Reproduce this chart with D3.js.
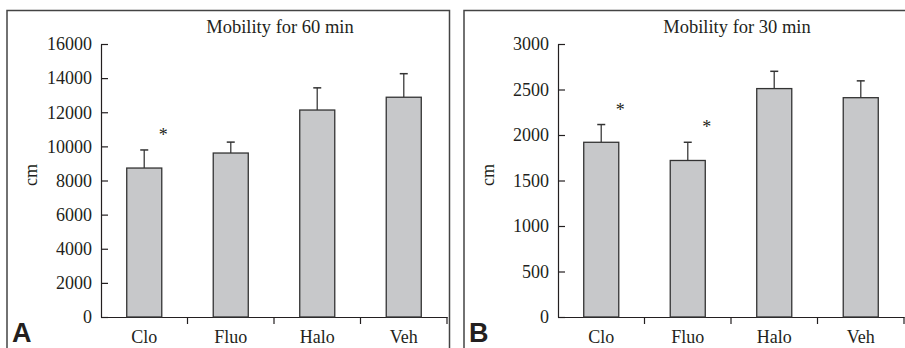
<!DOCTYPE html>
<html><head><meta charset="utf-8">
<script src="https://cdn.jsdelivr.net/npm/d3@7"></script>
<style>
body{margin:0;background:#fff;}
svg{display:block;}
text{font-family:"Liberation Serif","Times New Roman",serif;fill:#231f20;}
</style></head>
<body><svg id="chart" width="905" height="348"></svg>
<script>
const categories = ["Clo","Fluo","Halo","Veh"];
const meansA = [8730, 9610, 12130, 12880];
const errA = [1060, 640, 1300, 1380];
const sigA = [true, false, false, false];
const ticksA = [0,2000,4000,6000,8000,10000,12000,14000,16000];
const meansB = [1920, 1720, 2510, 2410];
const errB = [195, 200, 190, 185];
const sigB = [true, true, false, false];
const ticksB = [0,500,1000,1500,2000,2500,3000];
const titles = ["Mobility for 60 min","Mobility for 30 min"];
const panelLetters = ["A","B"];
const yLabel = "cm";

const svg = d3.select("#chart");
const ink = "#231f20";

function panel(ox, title, letter, means, errs, sig, ticks) {
  const g = svg.append("g").attr("transform", `translate(${ox},0)`);
  // frame (no bottom)
  g.append("path").attr("d", "M7,349V10.5H449.5V349")
    .attr("fill","none").attr("stroke","#444").attr("stroke-width",1.5);
  const x0 = 101, x1 = 447, yTop = 44, yBot = 317;
  const x = d3.scaleBand().domain(categories).range([x0, x1]).padding(0);
  const y = d3.scaleLinear().domain([0, d3.max(ticks)]).range([yBot, yTop]);
  const barW = x.bandwidth() * 0.405;

  // y axis
  const ya = g.append("g").attr("transform", `translate(${x0},0)`)
    .call(d3.axisLeft(y).tickValues(ticks).tickFormat(d3.format("d"))
      .tickSizeInner(-7).tickSizeOuter(0).tickPadding(9));
  ya.select(".domain").attr("stroke", ink).attr("stroke-width",1.2);
  ya.selectAll(".tick line").attr("stroke", ink).attr("stroke-width",1.2);
  ya.selectAll("text").style("font-size","18px").attr("fill", ink)
    .style("font-family","'Liberation Serif',serif");

  // x axis (labels)
  const xa = g.append("g").attr("transform", `translate(0,${yBot})`)
    .call(d3.axisBottom(x).tickSize(0).tickPadding(13));
  xa.select(".domain").attr("stroke", ink).attr("stroke-width",1.2);
  xa.selectAll("text").style("font-size","18px").attr("fill", ink)
    .style("font-family","'Liberation Serif',serif");
  // tick marks at band boundaries
  g.append("g").selectAll("line").data(categories).join("line")
    .attr("x1", d => x(d) + x.bandwidth()).attr("x2", d => x(d) + x.bandwidth())
    .attr("y1", yBot).attr("y2", yBot + 7)
    .attr("stroke", ink).attr("stroke-width",1.2);

  // error bars
  const cx = d => x(d) + x.bandwidth()/2;
  g.append("g").selectAll("line").data(categories).join("line")
    .attr("x1", cx).attr("x2", cx)
    .attr("y1", (d,i) => y(means[i])).attr("y2", (d,i) => y(means[i] + errs[i]))
    .attr("stroke", "#555").attr("stroke-width",1.5);
  g.append("g").selectAll("line").data(categories).join("line")
    .attr("x1", d => cx(d) - 4).attr("x2", d => cx(d) + 4)
    .attr("y1", (d,i) => y(means[i] + errs[i])).attr("y2", (d,i) => y(means[i] + errs[i]))
    .attr("stroke", "#333").attr("stroke-width",1.5);

  // bars
  g.append("g").selectAll("rect").data(categories).join("rect")
    .attr("x", d => cx(d) - barW/2).attr("width", barW)
    .attr("y", (d,i) => y(means[i])).attr("height", (d,i) => yBot - y(means[i]))
    .attr("fill", "#c7c8ca").attr("stroke", "#333").attr("stroke-width",1.3);

  // asterisks
  g.append("g").selectAll("text").data(categories.filter((d,i) => sig[i])).join("text")
    .attr("x", d => cx(d) + 19)
    .attr("y", d => { const i = categories.indexOf(d); return y(means[i] + errs[i]) - 9; })
    .attr("text-anchor","middle").style("font-size","18px").text("*");

  // title
  g.append("text").attr("x", 280).attr("y", 33).attr("text-anchor","middle")
    .style("font-size","18.5px").text(title);
  // y label
  g.append("text").attr("transform","translate(37,175) rotate(-90)")
    .attr("text-anchor","middle").style("font-size","18px").text(yLabel);
  // panel letter
  g.append("text").attr("x", 12).attr("y", 342)
    .style("font-family","'Liberation Sans',Arial,sans-serif").style("font-weight","bold")
    .style("font-size","27px").text(letter);
}

panel(0, titles[0], panelLetters[0], meansA, errA, sigA, ticksA);
panel(457, titles[1], panelLetters[1], meansB, errB, sigB, ticksB);
</script></body></html>
